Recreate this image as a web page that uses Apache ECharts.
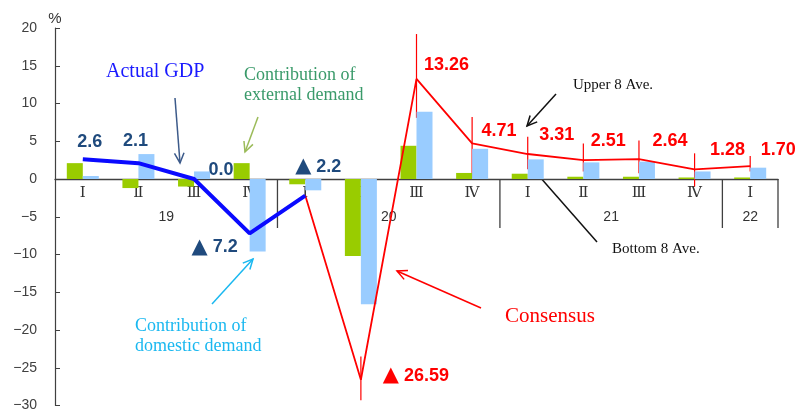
<!DOCTYPE html>
<html>
<head>
<meta charset="utf-8">
<script src="https://cdn.jsdelivr.net/npm/echarts@6/dist/echarts.min.js"></script>
<style>
  html, body { margin: 0; padding: 0; background: #fff; }
  #main { width: 797px; height: 410px; }
</style>
</head>
<body>
<div id="main"></div>
<script>
// 四半期とその年
var quarters = ['Ⅰ', 'Ⅱ', 'Ⅲ', 'Ⅳ', 'Ⅰ', 'Ⅱ', 'Ⅲ', 'Ⅳ', 'Ⅰ', 'Ⅱ', 'Ⅲ', 'Ⅳ', 'Ⅰ'];
var years = ['19', '20', '21', '22'];
var yearFirst = [0, 4, 8, 12];
var yearLast = [3, 7, 11, 12];

// 外需・内需寄与度
var external = [2.1, -1.2, -1.0, 2.1, -0.7, -10.2, 4.4, 0.8, 0.7, 0.3, 0.3, 0.2, 0.2];
var domestic = [0.4, 3.3, 1.0, -9.6, -1.5, -16.6, 8.9, 4.0, 2.6, 2.2, 2.3, 1.0, 1.5];
// 実績GDP
var actualGdp = [2.6, 2.1, 0.0, -7.2, -2.2, null, null, null, null, null, null, null, null];
// コンセンサスと上位8・下位8平均
var consensus = [null, null, null, null, -2.2, -26.59, 13.26, 4.71, 3.31, 2.51, 2.64, 1.28, 1.70];
var upper8 = [null, null, null, null, null, -23.5, 19.2, 8.2, 5.6, 4.7, 5.1, 3.4, 3.05];
var bottom8 = [null, null, null, null, null, -29.3, 8.1, 0.1, 1.3, 1.0, 0.75, -1.0, 1.0];

// y軸目盛
var yMin = -30, yMax = 20, yStep = 5;

// ラベルの位置ずらし
var gdpLabelOffset = [[7, -17], [-3, -22], [27, -9], [-35, 14], [13, -29]];
var consLabelOffset = [null, null, null, null, null, [55, -4], [30, -14], [27, -12], [29, -19], [25, -19], [31, -18], [33, -19], [28, -16]];

function fmtLabel(v, d) {
  return v < 0 ? '{t|▲} ' + Math.abs(v).toFixed(d) : v.toFixed(d);
}

var gdpData = actualGdp.map(function (v, i) {
  if (v == null) return null;
  return { value: v, label: { show: true, offset: gdpLabelOffset[i], formatter: fmtLabel(v, 1) } };
});
var consData = consensus.map(function (v, i) {
  if (v == null) return null;
  var off = consLabelOffset[i];
  return { value: v, label: { show: !!off, offset: off || [0, 0], formatter: fmtLabel(v, 2) } };
});
var rangeData = [];
for (var i = 0; i < upper8.length; i++) {
  if (upper8[i] != null) rangeData.push([i, bottom8[i], upper8[i]]);
}
var yearData = years.map(function (y, i) { return [yearFirst[i], yearLast[i]]; });
var quarterData = quarters.map(function (q, i) { return [i, 0]; });

// 矢印（注記）
function arrow(x1, y1, x2, y2, color) {
  var a = Math.atan2(y2 - y1, x2 - x1);
  var len = 11, sp = 0.45;
  return {
    type: 'group',
    children: [
      { type: 'line', shape: { x1: x1, y1: y1, x2: x2, y2: y2 }, style: { stroke: color, lineWidth: 1.5 } },
      { type: 'polyline', shape: { points: [
          [x2 - len * Math.cos(a - sp), y2 - len * Math.sin(a - sp)],
          [x2, y2],
          [x2 - len * Math.cos(a + sp), y2 - len * Math.sin(a + sp)]
        ] }, style: { stroke: color, lineWidth: 1.5, fill: null } }
    ]
  };
}
function note(text, x, y, color, size) {
  return {
    type: 'text', left: x, top: y,
    style: { text: text, fill: color, font: size + 'px "Liberation Serif", serif', lineHeight: 20 }
  };
}

var myChart = echarts.init(document.getElementById('main'));
var option = {
  animation: false,
  grid: { left: 55, right: 19, top: 28, bottom: 4.5, containLabel: false, outerBoundsMode: 'none' },
  xAxis: {
    type: 'category',
    data: quarters,
    axisLine: { onZero: true, lineStyle: { color: '#404040', width: 1.3 } },
    axisTick: { show: false },
    axisLabel: { show: false }
  },
  yAxis: {
    type: 'value',
    min: yMin, max: yMax, interval: yStep,
    name: '%', nameGap: 2,
    nameTextStyle: { color: '#333', fontSize: 15, fontFamily: '"Liberation Sans", sans-serif' },
    axisLine: { show: true, onZero: false, lineStyle: { color: '#404040', width: 1.2 } },
    axisTick: { show: true, inside: true, length: 5, lineStyle: { color: '#404040' } },
    splitLine: { show: false },
    axisLabel: {
      margin: 18, color: '#404040', fontSize: 14, fontFamily: '"Liberation Sans", sans-serif',
      formatter: function (v) { return String(v).replace('-', '−'); }
    }
  },
  series: [
    { name: 'external', type: 'bar', data: external, barWidth: 16, barGap: '0%', itemStyle: { color: '#99cc00' } },
    { name: 'domestic', type: 'bar', data: domestic, barWidth: 16, barGap: '0%', itemStyle: { color: '#99ccff' } },
    {
      // 四半期ラベル（ゼロ線の下）
      name: 'quarters', type: 'custom', data: quarterData, silent: true,
      renderItem: function (params, api) {
        var p = api.coord([api.value(0), 0]);
        return { type: 'text', x: p[0], y: p[1] + 14,
          style: { text: quarters[params.dataIndex], fill: '#333', font: '15px "DejaVu Serif", serif', align: 'center', verticalAlign: 'middle' } };
      }
    },
    {
      name: 'years', type: 'custom', data: yearData, silent: true,
      renderItem: function (params, api) {
        var bw = api.size([1, 0])[0];
        var p0 = api.coord([api.value(0), 0]);
        var p1 = api.coord([api.value(1), 0]);
        var xr = p1[0] + bw / 2;
        return {
          type: 'group',
          children: [
            { type: 'line', shape: { x1: xr, y1: p0[1], x2: xr, y2: p0[1] + 49 }, style: { stroke: '#404040', lineWidth: 1.3 } },
            { type: 'text', x: (p0[0] + p1[0]) / 2, y: p0[1] + 38,
              style: { text: years[params.dataIndex], fill: '#333', font: '14px "Liberation Sans", sans-serif', align: 'center', verticalAlign: 'middle' } }
          ]
        };
      }
    },
    {
      name: 'range', type: 'custom', data: rangeData, silent: true,
      renderItem: function (params, api) {
        var lo = api.coord([api.value(0), api.value(1)]);
        var hi = api.coord([api.value(0), api.value(2)]);
        return { type: 'line', shape: { x1: lo[0], y1: lo[1], x2: hi[0], y2: hi[1] }, style: { stroke: '#ff0000', lineWidth: 1.2 } };
      }
    },
    {
      name: 'consensus', type: 'line', data: consData,
      symbol: 'circle', symbolSize: 1, itemStyle: { color: 'rgba(0,0,0,0)' },
      lineStyle: { color: '#ff0000', width: 1.8 },
      label: { position: 'inside', align: 'center', verticalAlign: 'middle', color: '#ff0000', fontSize: 18, fontWeight: 'bold', fontFamily: '"Liberation Sans", sans-serif',
        rich: { t: { fontSize: 21, color: '#ff0000', fontFamily: '"DejaVu Sans", sans-serif' } } }
    },
    {
      name: 'gdp', type: 'line', data: gdpData,
      symbol: 'circle', symbolSize: 1, itemStyle: { color: 'rgba(0,0,0,0)' },
      lineStyle: { color: '#0a0aff', width: 4 },
      label: { position: 'inside', align: 'center', verticalAlign: 'middle', color: '#1f4a7d', fontSize: 18, fontWeight: 'bold', fontFamily: '"Liberation Sans", sans-serif',
        rich: { t: { fontSize: 21, color: '#1f4a7d', fontFamily: '"DejaVu Sans", sans-serif' } } }
    }
  ],
  graphic: [
    note('Actual GDP', 106, 62, '#1a1aff', 20),
    arrow(175, 98, 180, 163, '#3c5a8a'),
    note('Contribution of\nexternal demand', 244, 65, '#3a9a6a', 18),
    arrow(258, 117, 245, 152, '#9bbb59'),
    note('Contribution of\ndomestic demand', 135, 316, '#1ab8f0', 18),
    arrow(212, 304, 253, 259, '#1ab8f0'),
    note('Consensus', 505, 306, '#ff0000', 21),
    arrow(481, 308, 397, 271, '#ff0000'),
    note('Upper 8 Ave.', 573, 75, '#111', 15),
    arrow(556, 94, 527, 126, '#111'),
    note('Bottom 8 Ave.', 612, 239, '#111', 15),
    arrow(597, 242, 532, 168, '#111')
  ]
};
myChart.setOption(option);
window.addEventListener('resize', function () { myChart.resize(); });
</script>
</body>
</html>
